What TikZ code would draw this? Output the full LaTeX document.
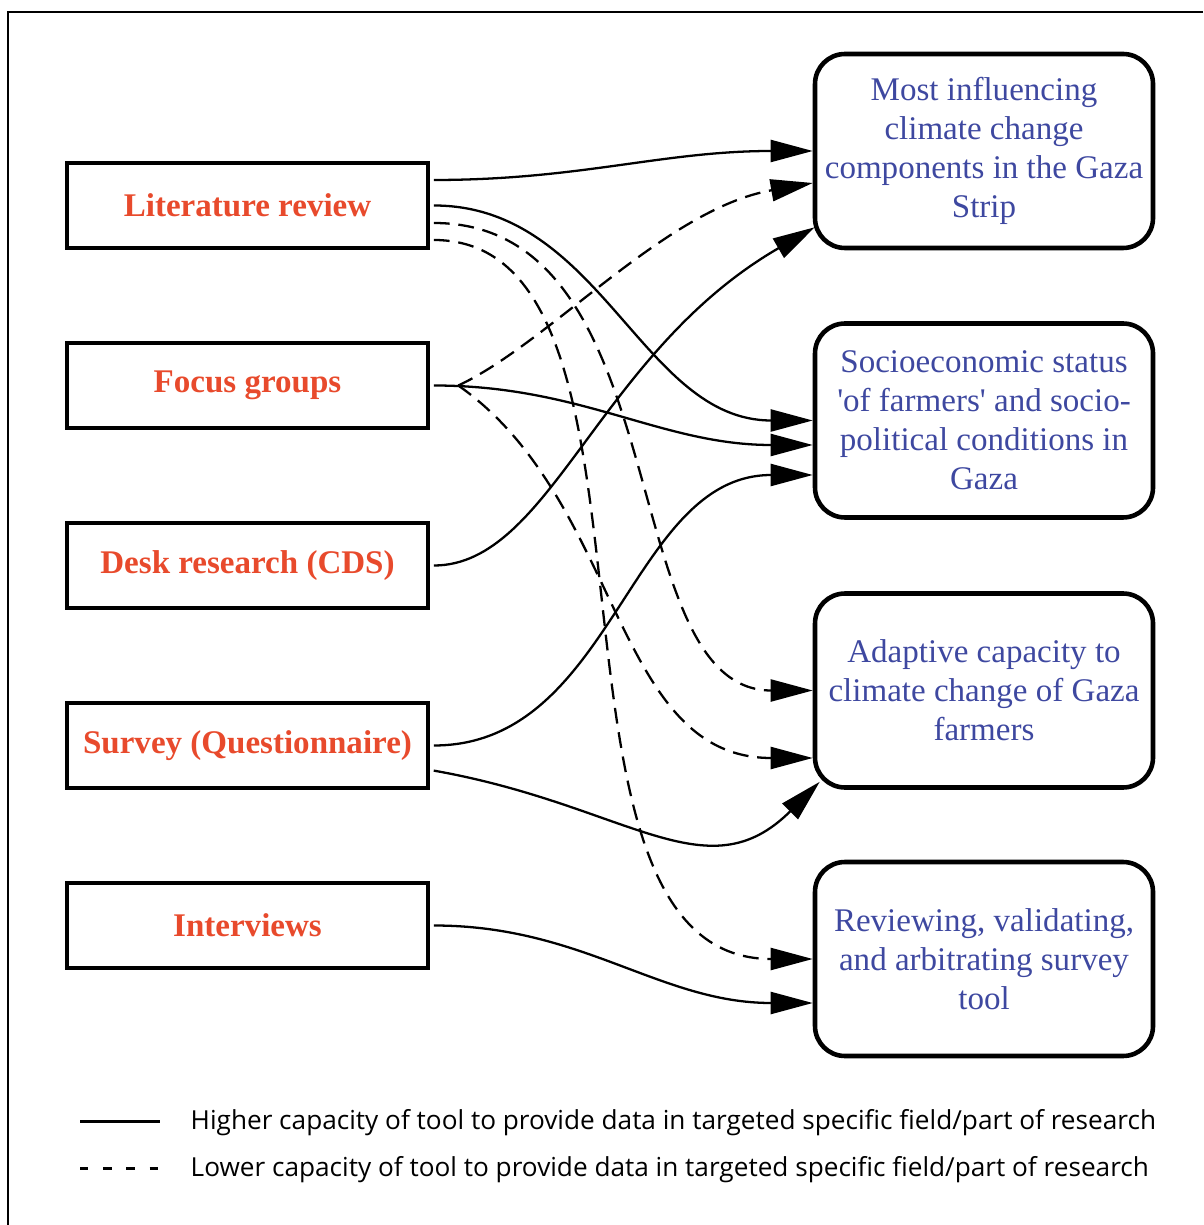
\documentclass[tikz,border=0pt]{standalone}
\usepackage{fontspec}
\setmainfont{Liberation Serif}
\newfontfamily\legendfont{Open Sans}
\usetikzlibrary{arrows.meta}
\definecolor{toolred}{RGB}{232,74,44}
\definecolor{aimblue}{RGB}{62,72,160}
\tikzset{
  tool/.style={draw, line width=1.3pt, minimum width=3.61cm, minimum height=0.85cm, inner sep=0pt,
    text=toolred, font=\fontsize{9.4}{11.1}\selectfont\bfseries},
  aim/.style={draw, line width=1.3pt, rounded corners=0.3cm, minimum width=3.38cm, minimum height=1.94cm,
    inner sep=0pt, align=center, text=aimblue, font=\fontsize{9.4}{11.1}\selectfont},
  hi/.style={line width=0.65pt, shorten <=1pt, -{Triangle[length=0.42cm,width=0.22cm]}},
  lo/.style={hi, dash pattern=on 4.5pt off 2.5pt},
  legtext/.style={anchor=base west, inner sep=0pt, font=\fontsize{7.45}{8.5}\legendfont}
}
\begin{document}
\begin{tikzpicture}
\useasboundingbox (0,0) rectangle (12.03,-12.25);
\draw[line width=0.6pt] (12.03,-0.12) -- (0.08,-0.12) -- (0.08,-12.25);

\node[tool] (lit) at (2.475,-2.055) {Literature review};
\node[tool] (focus) at (2.475,-3.855) {Focus groups};
\node[tool] (desk) at (2.475,-5.655) {Desk research (CDS)};
\node[tool] (survey) at (2.475,-7.455) {Survey (Questionnaire)};
\node[tool] (interv) at (2.475,-9.255) {Interviews};

\node[aim] (most) at (9.84,-1.51) {Most influencing\\climate change\\components in the Gaza\\Strip};
\node[aim] (socio) at (9.84,-4.205) {Socioeconomic status\\\textquotesingle of farmers\textquotesingle{} and socio-\\political conditions in\\Gaza};
\node[aim] (adapt) at (9.84,-6.905) {Adaptive capacity to\\climate change of Gaza\\farmers};
\node[aim] (review) at (9.84,-9.59) {Reviewing, validating,\\and arbitrating survey\\tool};

\draw[hi] ([yshift=0.255cm]lit.east) to[out=0,in=180] (most.west);
\draw[hi] (lit.east) to[out=0,in=180] (socio.west);
\draw[lo] ([yshift=-0.175cm]lit.east) to[out=0,in=180,out distance=2.5cm,in distance=2cm] (adapt.west);
\draw[lo] ([yshift=-0.345cm]lit.east) to[out=0,in=180,out distance=2.6cm,in distance=3cm] (review.west);

\coordinate (fork) at ([xshift=0.28cm]focus.east);
\draw[hi] (focus.east) to[out=0,in=180] ([yshift=-0.245cm]socio.west);
\draw[lo, shorten <=0pt] (fork) to[out=25,in=190,out distance=1cm,in distance=1.5cm] ([yshift=-0.32cm]most.west);
\draw[lo, shorten <=0pt] (fork) to[out=-35,in=180,out distance=2cm,in distance=2cm] ([yshift=-0.675cm]adapt.west);

\draw[hi] (desk.east) to[out=0,in=210,out distance=1.2cm,in distance=2.5cm] ([xshift=0.02cm,yshift=0.23cm]most.south west);

\draw[hi] (survey.east) to[out=0,in=180] ([yshift=-0.545cm]socio.west);
\draw[hi] ([yshift=-0.245cm]survey.east) to[out=-10,in=225,out distance=2cm,in distance=1.6cm] ([xshift=0.07cm,yshift=0.08cm]adapt.south west);

\draw[hi] (interv.east) to[out=0,in=180] ([yshift=-0.44cm]review.west);

\coordinate (hiA) at (0.80,-11.21);
\coordinate (hiB) at (1.60,-11.21);
\coordinate (loA) at (0.80,-11.68);
\coordinate (loB) at (1.60,-11.68);
\draw[line width=0.85pt] (hiA) -- (hiB);
\draw[line width=0.85pt, dash pattern=on 2.4pt off 4.2pt] (loA) -- (loB);
\node[legtext] (hitext) at (1.90,-11.29) {Higher capacity of tool to provide data in targeted specific field/part of research};
\node[legtext] (lotext) at (1.90,-11.76) {Lower capacity of tool to provide data in targeted specific field/part of research};
\end{tikzpicture}
\end{document}
